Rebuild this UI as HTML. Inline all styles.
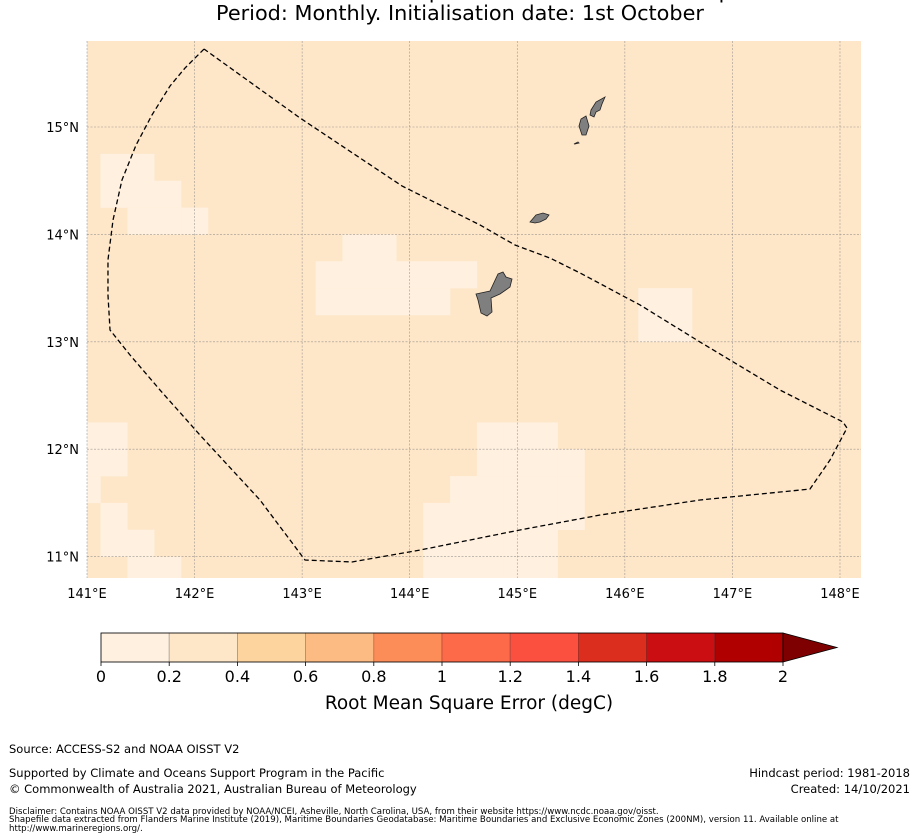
<!DOCTYPE html>
<html><head><meta charset="utf-8"><style>
body{margin:0;background:#fff;width:919px;height:839px;overflow:hidden;font-family:"DejaVu Sans","Liberation Sans",sans-serif}
svg{display:block}
text{font-family:"DejaVu Sans","Liberation Sans",sans-serif}
</style></head><body>
<svg id="chart" width="919" height="839">
<text x="460" y="-2" text-anchor="middle" font-size="20.8">ACCESS-S2 Skill: Root Mean Square Error Sea Surface Temperature</text>
<text x="460" y="20" text-anchor="middle" font-size="20.8">Period: Monthly. Initialisation date: 1st October</text>
<g id="map"></g>
<g id="cbar"></g>
<g font-size="11.5">
<text x="9" y="753">Source: ACCESS-S2 and NOAA OISST V2</text>
<text x="9" y="777">Supported by Climate and Oceans Support Program in the Pacific</text>
<text x="9" y="793">© Commonwealth of Australia 2021, Australian Bureau of Meteorology</text>
<text x="910" y="777" text-anchor="end">Hindcast period: 1981-2018</text>
<text x="910" y="793" text-anchor="end">Created: 14/10/2021</text>
<g font-size="8.6">
<text x="9" y="814">Disclaimer: Contains NOAA OISST V2 data provided by NOAA/NCEI, Asheville, North Carolina, USA, from their website https://www.ncdc.noaa.gov/oisst.</text>
<text x="9" y="822">Shapefile data extracted from Flanders Marine Institute (2019), Maritime Boundaries Geodatabase: Maritime Boundaries and Exclusive Economic Zones (200NM), version 11. Available online at</text>
<text x="9" y="831">http://www.marineregions.org/.</text>
</g></g>
</svg>
<script>
const lonTicks=[141,142,143,144,145,146,147,148];
const latTicks=[11,12,13,14,15];
const levels=[0,0.2,0.4,0.6,0.8,1,1.2,1.4,1.6,1.8,2];
const levelColors=["#fff0df","#fee6c8","#fdd49e","#fdbb84","#fc8d59","#fc6a4a","#fb5040","#db2e1e","#cb0e12","#b00000"];
const extendColor="#7f0000";
const baseValue=0.3;
// low-error cells [lonCenter, latCenter, value]
const lowCells=[
[141.25,14.625,0.15],[141.5,14.625,0.15],
[141.25,14.375,0.15],[141.5,14.375,0.15],[141.75,14.375,0.15],
[141.5,14.125,0.15],[141.75,14.125,0.15],[142.0,14.125,0.15],
[143.5,13.875,0.15],[143.75,13.875,0.15],
[143.25,13.625,0.15],[143.5,13.625,0.15],[143.75,13.625,0.15],[144.0,13.625,0.15],[144.25,13.625,0.15],[144.5,13.625,0.15],
[143.25,13.375,0.15],[143.5,13.375,0.15],[143.75,13.375,0.15],[144.0,13.375,0.15],[144.25,13.375,0.15],
[146.25,13.375,0.15],[146.5,13.375,0.15],[146.25,13.125,0.15],[146.5,13.125,0.15],
[141.0,12.125,0.15],[141.25,12.125,0.15],[141.0,11.875,0.15],[141.25,11.875,0.15],
[141.0,11.625,0.15],[141.25,11.375,0.15],
[141.25,11.125,0.15],[141.5,11.125,0.15],[141.5,10.875,0.15],[141.75,10.875,0.15],
[144.75,12.125,0.15],[145.0,12.125,0.15],[145.25,12.125,0.15],
[144.75,11.875,0.15],[145.0,11.875,0.15],[145.25,11.875,0.15],[145.5,11.875,0.15],
[144.5,11.625,0.15],[144.75,11.625,0.15],[145.0,11.625,0.15],[145.25,11.625,0.15],[145.5,11.625,0.15],
[144.25,11.375,0.15],[144.5,11.375,0.15],[144.75,11.375,0.15],[145.0,11.375,0.15],[145.25,11.375,0.15],[145.5,11.375,0.15],
[144.25,11.125,0.15],[144.5,11.125,0.15],[144.75,11.125,0.15],[145.0,11.125,0.15],[145.25,11.125,0.15],
[144.25,10.875,0.15],[144.5,10.875,0.15],[144.75,10.875,0.15],[145.0,10.875,0.15],[145.25,10.875,0.15]
];
const eezLon=[142.088,141.911,141.772,141.604,141.456,141.325,141.242,141.195,141.195,141.214,141.400,141.679,142.050,142.608,143.027,143.464,144.096,145.025,145.769,146.699,147.721,147.907,148.065,148.028,147.442,146.699,146.141,145.583,145.304,144.979,144.653,144.282,143.928,142.980,142.088];
const eezLat=[15.726,15.549,15.382,15.112,14.832,14.506,14.134,13.762,13.436,13.110,12.877,12.551,12.132,11.527,10.968,10.950,11.061,11.248,11.387,11.527,11.629,11.899,12.197,12.253,12.551,12.998,13.343,13.641,13.780,13.901,14.088,14.274,14.451,15.084,15.726];

const NS="http://www.w3.org/2000/svg";
const L=87,R=861,T=41,B=578;
const lon0=141,lat0=15,pxLon=107.57,pxLat=107.4;
const xs=lon=>L+(lon-lon0)*pxLon;
const ys=lat=>127+(lat0-lat)*pxLat;
function mk(tag,attrs,parent){const e=document.createElementNS(NS,tag);for(const k in attrs)e.setAttribute(k,attrs[k]);parent.appendChild(e);return e;}
function colorFor(v){for(let i=0;i<levelColors.length;i++){if(v<levels[i+1])return levelColors[i];}return extendColor;}
const map=document.getElementById('map');
const clip=mk('clipPath',{id:'mc'},map);mk('rect',{x:L,y:T,width:R-L,height:B-T},clip);
const bg=mk('rect',{x:L,y:T,width:R-L,height:B-T,fill:colorFor(baseValue)},map);


const cg=mk('g',{'clip-path':'url(#mc)'},map);
lowCells.forEach(c=>{
 const x1=xs(c[0]-0.125),x2=xs(c[0]+0.125),y1=ys(c[1]+0.125),y2=ys(c[1]-0.125);
 const r=mk('rect',{x:x1,y:y1,width:x2-x1+0.3,height:y2-y1+0.3,fill:colorFor(c[2])},cg);
 
 
});
lonTicks.forEach(v=>{const x=xs(v);
 const g=mk('line',{x1:x,x2:x,y1:T,y2:B,stroke:'#777','stroke-width':0.6,'stroke-dasharray':'2,1.5',opacity:0.7},map);
 
 
 const t=mk('text',{x:x,y:598,'text-anchor':'middle','font-size':13},map);t.textContent=v+'°E';
 
 
});
latTicks.forEach(v=>{const y=ys(v);
 const g=mk('line',{x1:L,x2:R,y1:y,y2:y,stroke:'#777','stroke-width':0.6,'stroke-dasharray':'2,1.5',opacity:0.7},map);
 
 
 const t=mk('text',{x:79,y:y+5,'text-anchor':'end','font-size':13},map);t.textContent=v+'°N';
 
 
});
const islands=[
 "M476,294 L490,291 L498,274 L503,272 L506,277 L512,279 L510,287 L500,294 L491,298 L492,312 L487,316 L481,313 L478,300 Z",
 "M530,222 L536,215 L543,213 L549,215 L546,219 L540,222 L535,223 Z",
 "M579,126 L581,119 L586,116 L589,126 L586,135 L582,135 Z",
 "M591,110 L596,102 L605,97 L602,104 L600,110 L596,112 L594,117 L590,115 Z",
 "M574,144 L578,142 L579,143 L575,144 Z"];
islands.forEach(d=>{const p=mk('path',{d:d,fill:'#7f7f7f',stroke:'#222','stroke-width':0.8},map);
 
 });
const eez=mk('polyline',{points:eezLon.map((v,i)=>xs(v)+','+ys(eezLat[i])).join(' '),fill:'none',stroke:'#000','stroke-width':1.3,'stroke-dasharray':'5,3'},map);


const cb=document.getElementById('cbar');
const cx0=101,cx1=783,cy0=633,cy1=662;
const cbx=v=>cx0+(v-levels[0])/(levels[levels.length-1]-levels[0])*(cx1-cx0);
levelColors.forEach((c,i)=>{
 const r=mk('rect',{x:cbx(levels[i]),y:cy0,width:cbx(levels[i+1])-cbx(levels[i]),height:cy1-cy0,fill:c,stroke:'rgba(0,0,0,0.25)','stroke-width':0.8},cb);
 
 
});
const tri=mk('polygon',{points:`${cx1},${cy0} 837,${(cy0+cy1)/2} ${cx1},${cy1}`,fill:extendColor,stroke:'#000','stroke-width':0.8},cb);


mk('rect',{x:cx0,y:cy0,width:cx1-cx0,height:cy1-cy0,fill:'none',stroke:'#000','stroke-width':0.8},cb);
levels.forEach(v=>{const x=cbx(v);
 mk('line',{x1:x,x2:x,y1:cy1,y2:cy1+4,stroke:'#000','stroke-width':0.8},cb);
 const t=mk('text',{x:x,y:682,'text-anchor':'middle','font-size':16},cb);t.textContent=String(v);
 
 
});
const cl=mk('text',{x:469,y:709,'text-anchor':'middle','font-size':18.5},cb);cl.textContent='Root Mean Square Error (degC)';


</script>
</body></html>
